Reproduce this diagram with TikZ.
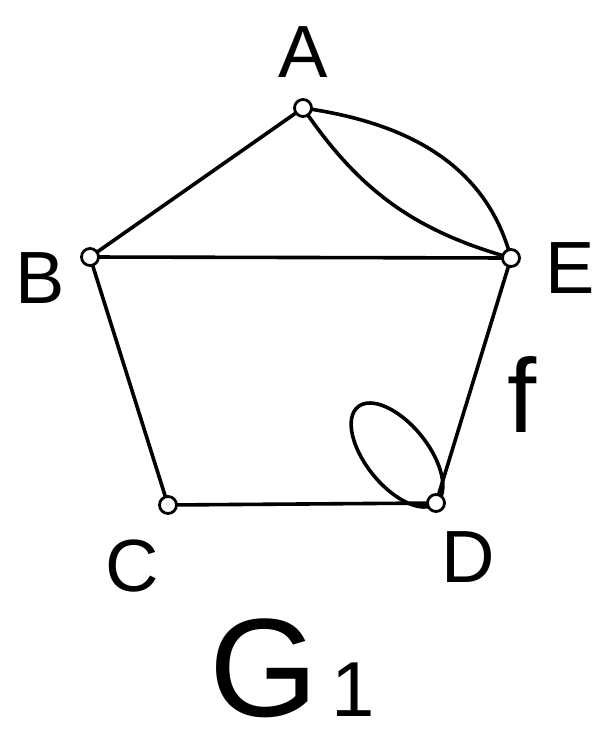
\documentclass[tikz,border=0pt]{standalone}
\usepackage{fontspec}
\setmainfont{Liberation Sans}
\begin{document}
\begin{tikzpicture}[x=1pt,y=-1pt,
  vertex/.style={circle,draw,fill=white,line width=2.8pt,minimum size=17pt,inner sep=0pt},
  edge/.style={line width=3.6pt},
  lbl/.style={inner sep=0pt,font=\fontsize{74}{76}\selectfont}]
\useasboundingbox (0,0) rectangle (601,744);
\coordinate (Ac) at (303,108);
\coordinate (Bc) at (90,257);
\coordinate (Ec) at (511,258);
\coordinate (Cc) at (168,505);
\coordinate (Dc) at (436,503);
\coordinate (Mc) at (397,455);
% edges
\draw[edge] (Ac) -- (Bc);
\draw[edge] (Bc) -- (Ec);
\draw[edge] (Bc) -- (Cc);
\draw[edge] (Cc) -- (Dc);
\draw[edge] (Dc) -- (Ec);
\draw[edge] (Ac) to[bend right=20] (Ec);
\draw[edge] (Ac) to[out=-8,in=105] (Ec);
\draw[edge,rotate around={-51:(Mc)}] (Mc) ellipse [x radius=62, y radius=31];
% vertices
\node[vertex] (A) at (Ac) {};
\node[vertex] (B) at (Bc) {};
\node[vertex] (E) at (Ec) {};
\node[vertex] (C) at (Cc) {};
\node[vertex] (D) at (Dc) {};
% labels
\node[lbl] (la) at (303,52) {A};
\node[lbl] (lb) at (40,278) {B};
\node[lbl] (le) at (570,268) {E};
\node[lbl,font=\fontsize{105}{105}\selectfont] (lf) at (522,395) {f};
\node[lbl] (lc) at (132,566) {C};
\node[lbl] (ld) at (468,557) {D};
\node[lbl,anchor=base,font=\fontsize{140}{140}\selectfont] (lg) at (292,716) {G\fontsize{78}{78}\selectfont\,1};
\end{tikzpicture}
\end{document}
